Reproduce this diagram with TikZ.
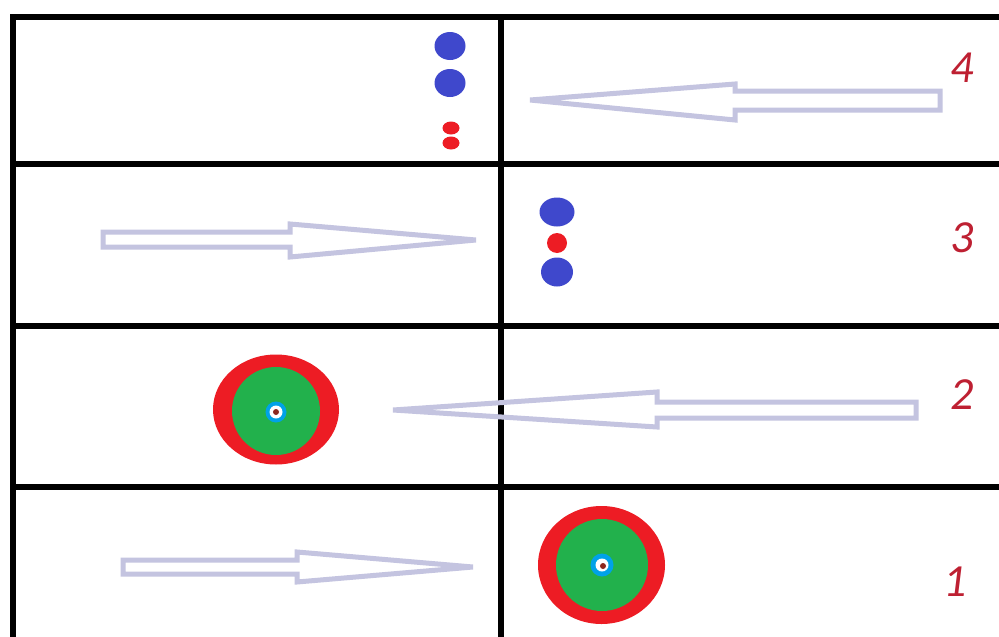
\documentclass[tikz,border=0pt]{standalone}
\usepackage{fontspec}
\setmainfont{Carlito}
\definecolor{lav}{RGB}{196,196,224}
\definecolor{lblred}{RGB}{190,32,50}
\definecolor{pred}{RGB}{237,28,36}
\definecolor{pgreen}{RGB}{34,177,76}
\definecolor{pturq}{RGB}{0,162,232}
\definecolor{pbrown}{RGB}{140,40,30}
\definecolor{pindigo}{RGB}{63,72,204}
\tikzset{
  gridline/.style={line width=6.5pt, black},
  outlinearrow/.style={draw=lav, line width=5pt, line join=miter, fill=white},
  numlabel/.style={text=lblred, font=\fontsize{46}{50}\selectfont\itshape, inner sep=0pt}
}
\begin{document}
\begin{tikzpicture}[x=1pt,y=-1pt]
\useasboundingbox (0,0) rectangle (999,637);
\fill[white] (0,0) rectangle (999,637);
% grid
\draw[gridline] (13,17) -- (999,17);
\draw[gridline] (13,164) -- (999,164);
\draw[gridline] (13,326) -- (999,326);
\draw[gridline] (13,487) -- (999,487);
\draw[gridline] (13,14) -- (13,637);
\draw[gridline] (501,14) -- (501,637);
% row 4 : arrow pointing left and dots
\draw[outlinearrow] (530,100) -- (735,84) -- (735,91) -- (940,91) -- (940,110) -- (735,110) -- (735,120) -- cycle;
\fill[pindigo] (450,46) ellipse [x radius=15.5, y radius=14];
\fill[pindigo] (450,83) ellipse [x radius=15.5, y radius=14];
\fill[pred] (451,128) ellipse [x radius=8.5, y radius=6.5];
\fill[pred] (451,143) ellipse [x radius=8.5, y radius=6.5];
\node[numlabel] (l4) at (962,68) {4};
% row 3 : arrow pointing right and dots
\draw[outlinearrow] (476,240) -- (290,224) -- (290,232) -- (103,232) -- (103,247) -- (290,247) -- (290,257) -- cycle;
\fill[pindigo] (557,212) ellipse [x radius=17.5, y radius=14.5];
\fill[pred] (557,243) circle [radius=10];
\fill[pindigo] (557,272) ellipse [x radius=16, y radius=14.5];
\node[numlabel] (l3) at (962,238) {3};
% row 2 : target and arrow pointing left (crossing the middle line)
\fill[pred] (276,409.5) ellipse [x radius=63, y radius=55];
\fill[pgreen] (276,411) ellipse [x radius=44, y radius=44];
\fill[pturq] (276,412) circle [radius=10.5];
\fill[white] (276,412) circle [radius=6.5];
\fill[pbrown] (276,412) circle [radius=3];
\draw[lav, line width=5pt, line join=miter] (393,410) -- (657,392) -- (657,402) -- (916,402) -- (916,418) -- (657,418) -- (657,427) -- cycle;
\node[numlabel] (l2) at (962,395) {2};
% row 1 : arrow pointing right and target
\draw[outlinearrow] (473,567) -- (297,552) -- (297,560) -- (123,560) -- (123,574) -- (297,574) -- (297,582) -- cycle;
\fill[pred] (601.5,565) ellipse [x radius=63.5, y radius=59];
\fill[pgreen] (602,565) ellipse [x radius=46, y radius=46];
\fill[pturq] (602,565) circle [radius=11.5];
\fill[white] (602,565) circle [radius=6.5];
\fill[pbrown] (603,566) circle [radius=3];
\node[numlabel] (l1) at (955,582) {1};
\end{tikzpicture}
\end{document}
